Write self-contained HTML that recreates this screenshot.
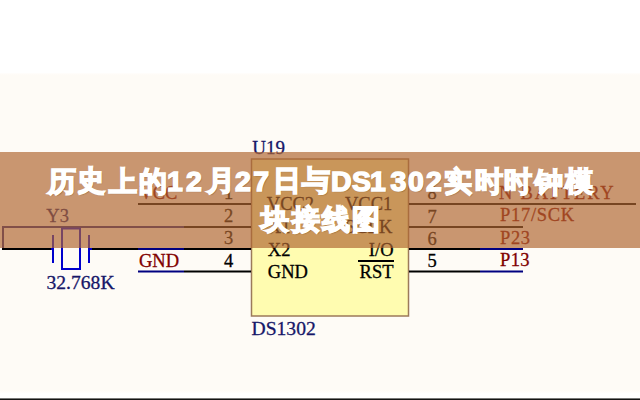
<!DOCTYPE html>
<html><head><meta charset="utf-8">
<style>
html,body{margin:0;padding:0;width:640px;height:400px;overflow:hidden;background:#fff;}
#wrap{position:relative;width:640px;height:400px;overflow:hidden;}
#cream{position:absolute;left:0;top:73px;width:640px;height:320px;background:linear-gradient(#fffefc 0,#fefbf6 2px,#fefbf6 317px,#fffefd 320px);}
#bottom{position:absolute;left:0;top:398px;width:640px;height:2px;background:linear-gradient(#777 0,#777 1px,#141414 1px);}
svg{position:absolute;left:0;top:0;}
svg text{font-family:"Liberation Serif",serif;font-size:18.5px;stroke-width:0.3px;}
.big text{font-size:19.6px;}
#band{position:absolute;left:0;top:152px;width:640px;height:96px;background:rgba(175,102,48,0.68);}
#title{position:absolute;left:0;top:0;width:640px;height:400px;}
#title span{position:absolute;font-family:"Liberation Sans",sans-serif;font-weight:bold;line-height:1;color:#fff;white-space:pre;-webkit-text-stroke:1.5px #fff;text-shadow:1px 1px 1px rgba(70,35,0,0.45);}
#title span.c{-webkit-text-stroke:1.7px #fff;}
</style></head><body><div id="wrap">
<div id="cream"></div>
<div id="bottom"></div>
<svg width="640" height="400" viewBox="0 0 640 400">
 <!-- IC box -->
 <rect x="251.5" y="159" width="157" height="157" fill="#fffcb0" stroke="#9c7a5a" stroke-width="1.5"/>
 <!-- left wires -->
 <g stroke-width="2" fill="none">
  <line x1="138" y1="204" x2="251" y2="204" stroke="#000"/>
  <line x1="2" y1="227" x2="184" y2="227" stroke="#20207a"/>
  <line x1="184" y1="227" x2="251" y2="227" stroke="#000"/>
  <line x1="3" y1="226" x2="3" y2="250" stroke="#20207a"/>
  <line x1="2" y1="249" x2="51" y2="249" stroke="#000"/>
  <line x1="51" y1="249" x2="54" y2="249" stroke="#0000cc"/>
  <line x1="88" y1="249" x2="92" y2="249" stroke="#0000cc"/>
  <line x1="92" y1="249" x2="138" y2="249" stroke="#000"/>
  <line x1="138" y1="249" x2="184" y2="249" stroke="#000080"/>
  <line x1="184" y1="249" x2="251" y2="249" stroke="#000"/>
  <line x1="138" y1="271.5" x2="184" y2="271.5" stroke="#000080"/>
  <line x1="184" y1="271.5" x2="251" y2="271.5" stroke="#000"/>
  <!-- crystal -->
  <line x1="53" y1="235" x2="53" y2="263" stroke="#0000cc"/>
  <line x1="89" y1="235" x2="89" y2="263" stroke="#0000cc"/>
  <rect x="62" y="228.5" width="18" height="40.5" stroke="#0000cc"/>
  <!-- right wires -->
  <line x1="409" y1="204" x2="636" y2="204" stroke="#000"/>
  <line x1="409" y1="227" x2="523" y2="227" stroke="#000"/>
  <line x1="409" y1="249" x2="480" y2="249" stroke="#000"/>
  <line x1="480" y1="249" x2="523" y2="249" stroke="#000080"/>
  <line x1="409" y1="271.5" x2="480" y2="271.5" stroke="#000"/>
  <line x1="480" y1="271.5" x2="523" y2="271.5" stroke="#000080"/>
  <line x1="358" y1="261" x2="394" y2="261" stroke="#000"/>
 </g>
 <g fill="#161668" stroke="#161668" class="big">
  <text x="252.3" y="153.6" style="font-size:19px">U19</text>
  <text x="251.5" y="335">DS1302</text>
  <text x="46.3" y="222" style="font-size:18.5px">Y3</text>
  <text x="46.5" y="289.3">32.768K</text>
 </g>
 <g fill="#800000" stroke="#800000">
  <text x="139.4" y="199">VCC</text>
  <text x="139" y="266.6">GND</text>
  <text x="499" y="198.9" style="letter-spacing:1.8px">N BATTERY</text>
  <text x="500" y="221.3" style="letter-spacing:0.7px">P17/SCK</text>
  <text x="500" y="243.8" style="letter-spacing:0.6px">P23</text>
  <text x="500" y="266.3" style="letter-spacing:0.4px">P13</text>
 </g>
 <g fill="#000" stroke="#000">
  <text x="224" y="199">1</text>
  <text x="224" y="221.6">2</text>
  <text x="224" y="244">3</text>
  <text x="224" y="266.6">4</text>
  <text x="427.5" y="199">8</text>
  <text x="427.5" y="222.6">7</text>
  <text x="427.5" y="244.6">6</text>
  <text x="427.5" y="266.5">5</text>
  <text x="266.8" y="210">VCC2</text>
  <text x="267.8" y="233">X1</text>
  <text x="267.8" y="255.6">X2</text>
  <text x="267.8" y="278">GND</text>
  <text x="392.3" y="210" text-anchor="end">VCC1</text>
  <text x="392.3" y="233" text-anchor="end">SCLK</text>
  <text x="393.5" y="255.6" text-anchor="end">I/O</text>
  <text x="393.5" y="277.5" text-anchor="end">RST</text>
 </g>
</svg>
<div id="band"></div>
<div id="title">
<span class="c" style="left:48.3px;top:168.1px;font-size:27.5px;">历</span>
<span class="c" style="left:77.4px;top:167.4px;font-size:27.5px;">史</span>
<span class="c" style="left:109.0px;top:168.1px;font-size:27.5px;">上</span>
<span class="c" style="left:138.5px;top:167.6px;font-size:27.5px;">的</span>
<span style="left:166.9px;top:166.6px;font-size:28.5px;">1</span>
<span style="left:186.0px;top:166.6px;font-size:28.5px;">2</span>
<span class="c" style="left:206.5px;top:167.2px;font-size:27.5px;">月</span>
<span style="left:235.0px;top:166.8px;font-size:28.5px;">2</span>
<span style="left:253.2px;top:166.8px;font-size:28.5px;">7</span>
<span class="c" style="left:272.8px;top:167.4px;font-size:27.5px;">日</span>
<span class="c" style="left:301.8px;top:167.2px;font-size:27.5px;">与</span>
<span style="left:331.1px;top:166.8px;font-size:28.5px;">D</span>
<span style="left:352.1px;top:166.8px;font-size:28.5px;">S</span>
<span style="left:369.9px;top:166.8px;font-size:28.5px;">1</span>
<span style="left:390.6px;top:166.8px;font-size:28.5px;">3</span>
<span style="left:407.9px;top:166.8px;font-size:28.5px;">0</span>
<span style="left:425.9px;top:166.8px;font-size:28.5px;">2</span>
<span class="c" style="left:444.1px;top:168.2px;font-size:27.5px;">实</span>
<span class="c" style="left:474.9px;top:167.8px;font-size:27.5px;">时</span>
<span class="c" style="left:504.2px;top:167.8px;font-size:27.5px;">时</span>
<span class="c" style="left:534.8px;top:168.6px;font-size:27.5px;">钟</span>
<span class="c" style="left:564.9px;top:167.8px;font-size:27.5px;">模</span>
<span class="c" style="left:260.9px;top:205.6px;font-size:27.5px;">块</span>
<span class="c" style="left:292.1px;top:205.6px;font-size:27.5px;">接</span>
<span class="c" style="left:321.5px;top:206.3px;font-size:27.5px;">线</span>
<span class="c" style="left:352.1px;top:206.1px;font-size:27.5px;">图</span>
</div>
</div></body></html>
